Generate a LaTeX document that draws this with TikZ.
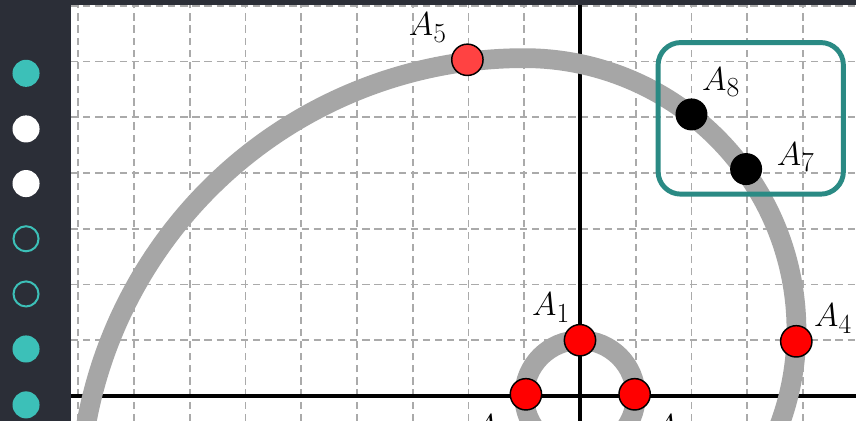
\documentclass[tikz,border=0pt]{standalone}
\usepackage{tikz}
\definecolor{sidebg}{HTML}{2B2E37}
\definecolor{tealfill}{HTML}{3CC0B8}
\definecolor{tealframe}{HTML}{2A8A84}
\definecolor{gridgray}{HTML}{AAAAAA}
\definecolor{curvegray}{HTML}{A6A6A6}
\definecolor{redlight}{HTML}{FF4242}
\tikzset{
  gridline/.style={draw=gridgray, line width=1.4pt, dash pattern=on 5.5pt off 3.6pt},
  axisline/.style={draw=black, line width=2.4pt},
  spiralline/.style={draw=curvegray, line width=14.8pt},
  redpt/.style={circle, fill=red, draw=black, line width=1.1pt, minimum size=23.5pt, inner sep=0pt},
  lightpt/.style={redpt, fill=redlight},
  blackpt/.style={circle, fill=black, minimum size=24pt, inner sep=0pt},
  lbl/.style={inner sep=0pt, font=\Huge},
  framebox/.style={draw=tealframe, line width=3.7pt, rounded corners=17pt, minimum width=139pt, minimum height=113.7pt, inner sep=0pt},
  dotfull/.style={circle, fill=tealfill, minimum size=20.3pt, inner sep=0pt},
  dotwhite/.style={circle, fill=white, minimum size=20.3pt, inner sep=0pt},
  dotring/.style={circle, draw=tealfill, line width=1.5pt, minimum size=18.8pt, inner sep=0pt}
}
\begin{document}
\begin{tikzpicture}[x=41.8125pt,y=41.8125pt]
\fill[sidebg] (-10.404,-0.4484) rectangle (4.951,7.103);
\fill[white] (-9.13,-0.4484) rectangle (4.951,7.013);
\useasboundingbox (-10.404,-0.4484) rectangle (4.951,7.103);
% sidebar dots
\node[dotfull]  (s1) at (-9.937,5.788) {};
\node[dotwhite] (s2) at (-9.937,4.79) {};
\node[dotwhite] (s3) at (-9.937,3.81) {};
\node[dotring]  (s4) at (-9.937,2.82) {};
\node[dotring]  (s5) at (-9.937,1.83) {};
\node[dotfull]  (s6) at (-9.937,0.843) {};
\node[dotfull]  (s7) at (-9.937,-0.16) {};
\begin{scope}
\clip (-9.13,-0.4484) rectangle (4.951,7.013);
\foreach \i in {-9,...,4} \draw[gridline] (\i,-0.4484) -- (\i,7.013);
\foreach \j in {1,...,7} \draw[gridline] (-9.13,\j) -- (4.951,\j);
\draw[axisline] (-9.13,0) -- (4.951,0);
\draw[axisline] (0,-0.4484) -- (0,7.013);
\draw[spiralline] (0,0) circle (1);
\coordinate (spstart) at (3.4255,-0.8866);
\draw[spiralline] (spstart) arc[start angle=-25, end angle=90, radius=4.883]
  arc[start angle=90, end angle=195, radius=7.985];
\node[framebox] (box) at (3.063,4.98) {};
\node[redpt] (A1) at (0,1) {};
\node[redpt] (A2) at (-0.97,0.03) {};
\node[redpt] (A3) at (0.98,0.03) {};
\node[redpt] (A4) at (3.88,0.98) {};
\node[lightpt] (A5) at (-2.02,6.03) {};
\node[blackpt] (A7) at (2.98,4.07) {};
\node[blackpt] (A8) at (2.0,5.05) {};
\node[lbl] (L1) at (-0.52,1.587) {$A_1$};
\node[lbl] (L2) at (-1.58,-0.6) {$A_2$};
\node[lbl] (L3) at (1.65,-0.6) {$A_3$};
\node[lbl] (L4) at (4.54,1.39) {$A_4$};
\node[lbl] (L5) at (-2.73,6.61) {$A_5$};
\node[lbl] (L7) at (3.87,4.28) {$A_7$};
\node[lbl] (L8) at (2.53,5.63) {$A_8$};
\end{scope}
\end{tikzpicture}
\end{document}
